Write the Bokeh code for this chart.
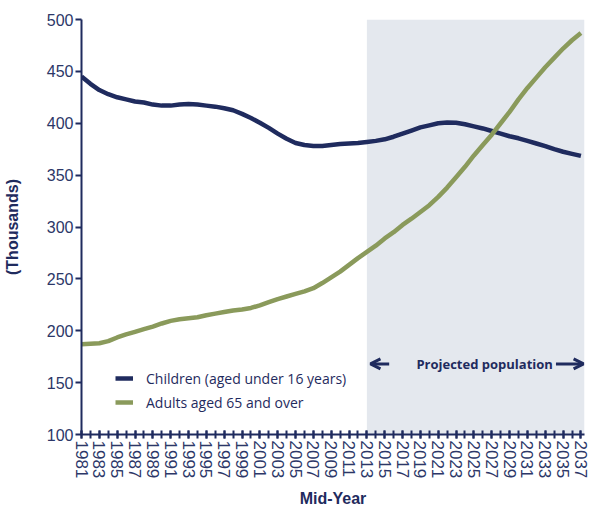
from bokeh.plotting import figure
from bokeh.models import FixedTicker, BoxAnnotation, Label, Arrow, OpenHead, Range1d
from bokeh.embed import file_html
from bokeh.resources import INLINE

years = list(range(1981, 2038))
children = [445, 438, 432, 428, 425, 423, 421, 420, 418, 417,
            417, 418, 418.5, 418, 417, 416, 414.5, 412.5, 409, 405,
            400.5, 395.5, 390, 385, 381, 379, 378, 378, 379, 380,
            380.5, 381, 382, 383, 384.5, 387, 390, 393, 396, 398,
            400, 400.8, 400.5, 399, 397, 395, 392.5, 390, 387.5, 385.5,
            383, 380.5, 378, 375, 372.5, 370.5, 368.5]
adults = [187, 187.5, 188, 190, 193.5, 196.5, 199, 201.5, 204, 207,
          209.5, 211, 212, 213, 215, 216.5, 218, 219.5, 220.5, 222,
          224.5, 227.5, 230.5, 233, 235.5, 238, 241, 246, 251.5, 257,
          263.5, 270, 276, 282, 289, 295, 302, 308, 314.5, 321,
          329, 338, 348, 358, 369, 379, 389, 400, 411, 423,
          434, 444, 454, 463, 472, 480, 487]
y_ticks = [100, 150, 200, 250, 300, 350, 400, 450, 500]
x_label_years = list(range(1981, 2038, 2))
projection_start = 2013
series_names = ["Children (aged under 16 years)", "Adults aged 65 and over"]
annotation_text = "Projected population"

NAVY = "#1f2b5e"
GREEN = "#8a9a5b"
TXT = "#2c3768"

p = figure(width=590, height=510, output_backend="svg", toolbar_location=None,
           x_range=Range1d(1981, 2037.4), y_range=Range1d(100, 500),
           min_border_left=0, min_border_top=19, min_border_right=6, min_border_bottom=0)
p.outline_line_color = None
p.xgrid.visible = False
p.ygrid.visible = False
p.background_fill_color = "white"

shade = BoxAnnotation(left=projection_start, fill_color="#e4e8ee", fill_alpha=1.0,
                      line_color=None, level="underlay")
p.add_layout(shade)

p.line(years, children, line_color=NAVY, line_width=4.5, legend_label=series_names[0])
p.line(years, adults, line_color=GREEN, line_width=4.5, legend_label=series_names[1])

# y axis
ya = p.yaxis[0]
ya.ticker = FixedTicker(ticks=y_ticks)
ya.axis_line_color = NAVY
ya.axis_line_width = 2
ya.major_tick_line_color = NAVY
ya.major_tick_line_width = 2
ya.major_tick_out = 6
ya.major_tick_in = 0
ya.minor_tick_line_color = None
ya.major_label_text_font = "Liberation Sans"
ya.major_label_text_font_size = "16px"
ya.major_label_text_color = TXT
ya.major_label_standoff = 2
ya.axis_label = "(Thousands)"
ya.axis_label_text_font = "Liberation Sans"
ya.axis_label_text_font_style = "bold"
ya.axis_label_text_font_size = "16px"
ya.axis_label_text_color = NAVY
ya.axis_label_standoff = 23

# x axis
xa = p.xaxis[0]
xa.ticker = FixedTicker(ticks=x_label_years, minor_ticks=years)
xa.axis_line_color = NAVY
xa.axis_line_width = 2
xa.major_tick_line_color = NAVY
xa.major_tick_line_width = 2
xa.major_tick_in = 4
xa.major_tick_out = 4
xa.minor_tick_line_color = NAVY
xa.minor_tick_line_width = 2
xa.minor_tick_in = 4
xa.minor_tick_out = 4
xa.major_label_orientation = "vertical"
xa.major_label_text_font = "Liberation Sans"
xa.major_label_text_font_size = "17px"
xa.major_label_text_color = TXT
xa.major_label_standoff = 2
xa.axis_label = "Mid-Year"
xa.axis_label_text_font = "Liberation Sans"
xa.axis_label_text_font_style = "bold"
xa.axis_label_text_font_size = "16px"
xa.axis_label_text_color = NAVY
xa.axis_label_standoff = 9

# legend
lg = p.legend[0]
lg.location = (34, 22)
lg.border_line_color = None
lg.background_fill_alpha = 0
lg.label_text_font = "Open Sans"
lg.label_text_font_size = "14px"
lg.label_text_color = NAVY
lg.glyph_width = 18
lg.glyph_height = 20
lg.label_height = 20
lg.spacing = 4
lg.padding = 8
lg.margin = 0
lg.label_standoff = 13

# projection annotation
arrow_y = 168
p.add_layout(Arrow(end=OpenHead(size=10, line_width=3, line_color=NAVY),
                   x_start=2015.5, y_start=arrow_y, x_end=2013.4, y_end=arrow_y,
                   line_width=3, line_color=NAVY))
p.add_layout(Arrow(end=OpenHead(size=10, line_width=3, line_color=NAVY),
                   x_start=2034.2, y_start=arrow_y, x_end=2037.3, y_end=arrow_y,
                   line_width=3, line_color=NAVY))
p.add_layout(Label(x=2026.2, y=arrow_y, text=annotation_text, text_align="center",
                   text_baseline="middle", text_font="Open Sans", text_font_style="bold",
                   text_font_size="13px", text_color=NAVY))

open("out.html", "w").write(file_html(p, INLINE))
